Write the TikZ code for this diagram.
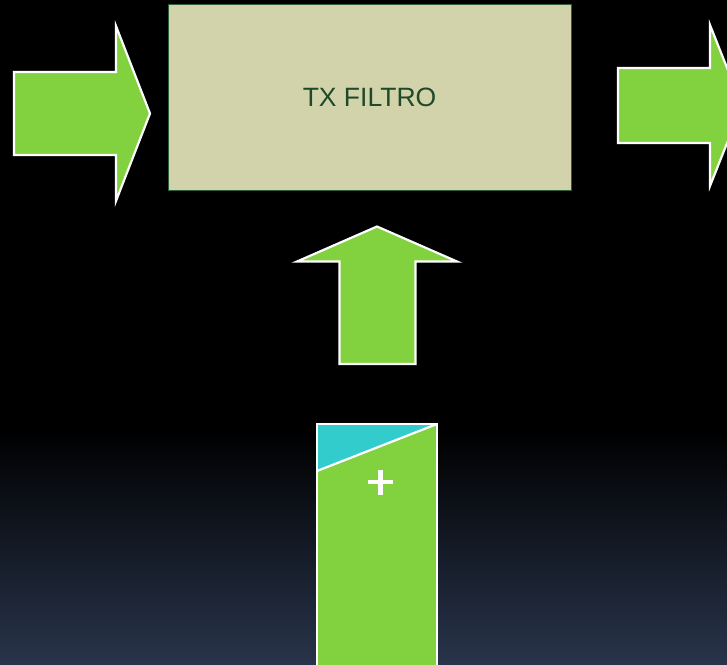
\documentclass[tikz,border=0pt]{standalone}
\usepackage{fontspec}
\setmainfont{Liberation Sans}
\definecolor{arrowgreen}{HTML}{82D13F}
\definecolor{boxfill}{HTML}{D2D3AA}
\definecolor{boxline}{HTML}{2F5E3A}
\definecolor{boxtext}{HTML}{1F4A2A}
\definecolor{tealtop}{HTML}{33CCCC}
\definecolor{bgbottom}{HTML}{28344B}
\tikzset{
  arrowshape/.style={fill=arrowgreen, draw=white, line width=2.2pt, line join=miter},
  filterbox/.style={draw=boxline, fill=boxfill, line width=1pt, rectangle, inner sep=0pt,
    text=boxtext, font=\fontsize{26.5}{30}\selectfont},
}
\begin{document}
\begin{tikzpicture}[x=1pt,y=-1pt]
\useasboundingbox (0,0) rectangle (727,664);
\clip (0,0) rectangle (727,664);
% background
\fill[black] (0,0) rectangle (727,664);
\shade[top color=black, bottom color=bgbottom] (0,430) rectangle (727,664);
% filter box
\node[filterbox, minimum width=403pt, minimum height=186pt] (box) at (369.5,97) {TX FILTRO};
% left arrow
\draw[arrowshape] (14,72) -- (116,72) -- (116,26) -- (150,113.5) -- (116,201) -- (116,155) -- (14,155) -- cycle;
% right arrow (clipped)
\draw[arrowshape] (618,68) -- (710,68) -- (710,25) -- (742,105.5) -- (710,186) -- (710,143) -- (618,143) -- cycle;
% up arrow
\draw[arrowshape] (339.5,364) -- (339.5,261.5) -- (297,261.5) -- (377,226.5) -- (457,261.5) -- (415.5,261.5) -- (415.5,364) -- cycle;
% bottom bar
\fill[arrowgreen] (317,424) rectangle (437,670);
\fill[tealtop] (317,424) -- (437,424) -- (317,471) -- cycle;
\draw[white, line width=2.2pt] (317,670) -- (317,424) -- (437,424) -- (437,670);
\draw[white, line width=2.2pt] (437,424) -- (317,471);
\node[coordinate] (plus) at (380.5,482) {};
\draw[white, line width=4.5pt] ([xshift=-12.5pt]plus) -- ([xshift=12.5pt]plus);
\draw[white, line width=4.5pt] ([yshift=-12.5pt]plus) -- ([yshift=12.5pt]plus);
\end{tikzpicture}
\end{document}
